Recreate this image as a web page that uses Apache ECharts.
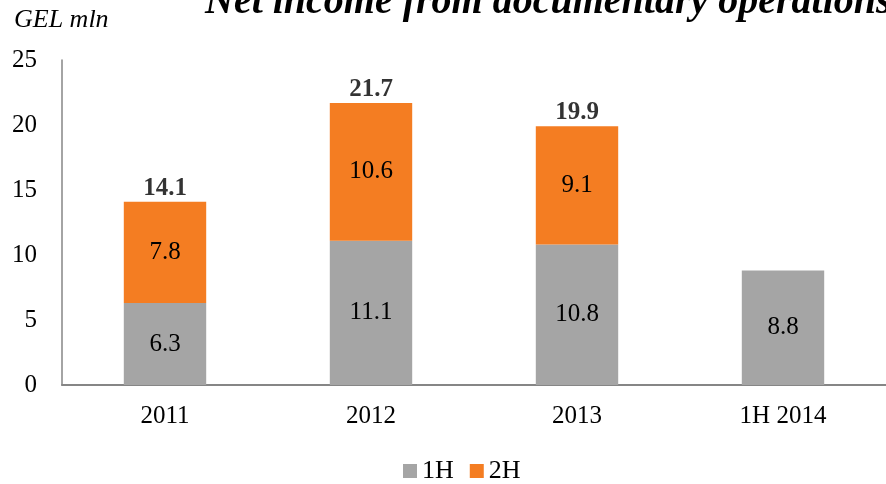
<!DOCTYPE html>
<html>
<head>
<meta charset="utf-8">
<script src="https://cdn.jsdelivr.net/npm/echarts@6/dist/echarts.min.js"></script>
<style>
  html, body { margin: 0; padding: 0; background: #fff; }
  #chart { width: 886px; height: 484px; }
</style>
</head>
<body>
<div id="chart"></div>
<script>
// data
const categories = ['2011', '2012', '2013', '1H 2014'];
const firstHalf = [6.3, 11.1, 10.8, 8.8];
const secondHalf = [7.8, 10.6, 9.1, null];
const totals = [14.1, 21.7, 19.9, null];
const yTicks = [0, 5, 10, 15, 20, 25];

const serif = '"Liberation Serif", "DejaVu Serif", serif';

const chart = echarts.init(document.getElementById('chart'));

let option = {
    animation: false,
    textStyle: { fontFamily: serif },
    title: [{
        text: 'Net income from documentary operations',
        left: 200,
        top: -22,
        textStyle: { fontFamily: serif, fontSize: 40, fontWeight: 'bold', fontStyle: 'italic', color: '#000' }
    }, {
        text: 'GEL mln',
        left: 9,
        top: 2,
        textStyle: { fontFamily: serif, fontSize: 26, fontWeight: 'normal', fontStyle: 'italic', color: '#000' }
    }],
    legend: {
        data: ['1H', '2H'],
        top: 453,
        left: 398,
        itemWidth: 14,
        itemHeight: 14,
        itemGap: 16,
        icon: 'rect',
        textStyle: { fontFamily: serif, fontSize: 26, color: '#000' }
    },
    grid: { left: 62, top: 60, width: 828, height: 325 },
    xAxis: {
        type: 'category',
        data: categories,
        axisLine: { lineStyle: { color: '#868686', width: 2 } },
        axisTick: { show: false },
        axisLabel: { fontFamily: serif, fontSize: 25, color: '#000', margin: 19 }
    },
    yAxis: {
        type: 'value',
        min: yTicks[0],
        max: yTicks[yTicks.length - 1],
        interval: 5,
        axisLine: { show: true, lineStyle: { color: '#868686', width: 1.5 } },
        axisTick: { show: false },
        splitLine: { show: false },
        axisLabel: { fontFamily: serif, fontSize: 25, color: '#000', margin: 25 }
    },
    series: [{
        name: '1H',
        type: 'bar',
        stack: 'total',
        barWidth: '40%',
        data: firstHalf,
        itemStyle: { color: '#A5A5A5' },
        label: { show: true, position: 'inside', fontFamily: serif, fontSize: 25, color: '#000' }
    }, {
        name: '2H',
        type: 'bar',
        stack: 'total',
        data: secondHalf,
        itemStyle: { color: '#F47D22' },
        label: { show: true, position: 'inside', fontFamily: serif, fontSize: 25, color: '#000' }
    }, {
        name: 'Total',
        type: 'scatter',
        data: totals,
        symbolSize: 0,
        label: {
            show: true,
            position: 'top',
            distance: 1,
            fontFamily: serif,
            fontSize: 25,
            fontWeight: 'bold',
            color: '#000'
        }
    }]
};

chart.setOption(option);
</script>
</body>
</html>
